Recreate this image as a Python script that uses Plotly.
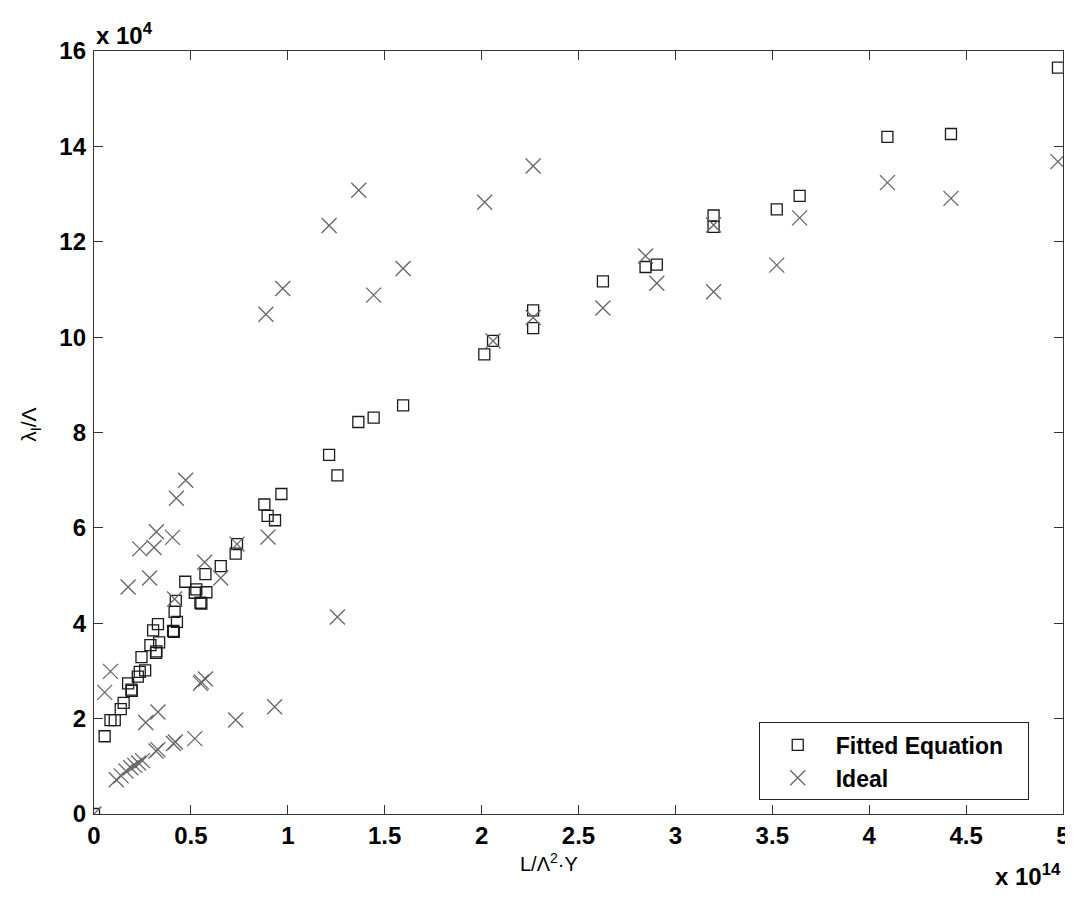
import plotly.graph_objects as go

# Fitted Equation (squares): x in units of 1e14, y in units of 1e4
fit_x = [4.974, 4.094, 4.422, 3.641, 3.523, 3.197, 3.197, 2.904, 2.846, 2.626,
         2.266, 2.266, 2.059, 2.014, 1.595, 1.443, 1.364, 1.213, 1.256, 0.967,
         0.879, 0.896, 0.934, 0.738, 0.731, 0.654, 0.575, 0.471, 0.528, 0.580,
         0.520, 0.549, 0.554, 0.422, 0.416, 0.428, 0.408, 0.412, 0.330, 0.305,
         0.336, 0.291, 0.322, 0.320, 0.245, 0.264, 0.236, 0.226, 0.176, 0.193,
         0.195, 0.153, 0.138, 0.085, 0.107, 0.055, 0.0]
fit_y = [15.65, 14.20, 14.26, 12.96, 12.68, 12.55, 12.31, 11.52, 11.47, 11.17,
         10.56, 10.19, 9.92, 9.64, 8.57, 8.31, 8.22, 7.53, 7.10, 6.71,
         6.49, 6.25, 6.16, 5.66, 5.46, 5.20, 5.03, 4.87, 4.71, 4.65,
         4.64, 4.43, 4.41, 4.47, 4.24, 4.03, 3.84, 3.82, 3.98, 3.85,
         3.60, 3.54, 3.41, 3.38, 3.29, 3.01, 2.98, 2.88, 2.74, 2.61,
         2.58, 2.33, 2.20, 1.97, 1.97, 1.63, 0.0]

# Ideal (crosses)
ideal_x = [4.974, 4.094, 4.422, 3.641, 3.523, 3.197, 3.197, 2.904, 2.846, 2.626,
           2.266, 2.266, 2.059, 2.016, 1.595, 1.443, 1.366, 1.213, 1.256, 0.974,
           0.887, 0.898, 0.932, 0.738, 0.731, 0.654, 0.571, 0.575, 0.554, 0.549,
           0.520, 0.473, 0.425, 0.416, 0.405, 0.322, 0.310, 0.236, 0.287, 0.176,
           0.330, 0.267, 0.085, 0.055,
           0.115, 0.140, 0.165, 0.190, 0.210, 0.230, 0.250, 0.320, 0.330, 0.410,
           0.420, 0.0]
ideal_y = [13.68, 13.24, 12.91, 12.50, 11.51, 12.35, 10.95, 11.13, 11.70, 10.61,
           13.59, 10.41, 9.92, 12.83, 11.44, 10.88, 13.08, 12.34, 4.13, 11.02,
           10.48, 5.81, 2.25, 5.66, 1.97, 4.95, 5.28, 2.83, 2.77, 2.74,
           1.58, 7.00, 6.62, 4.51, 5.80, 5.92, 5.59, 5.56, 4.95, 4.76,
           2.14, 1.92, 2.99, 2.55,
           0.72, 0.80, 0.90, 0.97, 1.02, 1.07, 1.12, 1.32, 1.35, 1.48,
           1.51, 0.0]

x_ticks = [0, 0.5, 1, 1.5, 2, 2.5, 3, 3.5, 4, 4.5, 5]
x_tick_text = ["0", "0.5", "1", "1.5", "2", "2.5", "3", "3.5", "4", "4.5", "5"]
y_ticks = [0, 2, 4, 6, 8, 10, 12, 14, 16]

FONT = "Liberation Sans, Arial, sans-serif"
PAD = "\u00a0\u00a0\u00a0"

fig = go.Figure()
fig.add_trace(go.Scatter(
    x=fit_x, y=fit_y, mode="markers", name="Fitted Equation" + PAD,
    marker=dict(symbol="square-open", size=11, color="#1a1a1a", line=dict(width=1.3)),
))
fig.add_trace(go.Scatter(
    x=ideal_x, y=ideal_y, mode="markers", name="Ideal",
    marker=dict(symbol="x-thin-open", size=15, color="#666666", line=dict(width=1.3, color="#666666")),
))

axis_common = dict(
    showgrid=False, zeroline=False, showline=True, linecolor="#333333", linewidth=1.3,
    mirror="ticks", ticks="inside", ticklen=9, tickwidth=1, tickcolor="#333333",
    tickfont=dict(family=FONT, size=24, color="black", weight="bold"),
)
fig.update_xaxes(range=[0, 5], tickvals=x_ticks, ticktext=x_tick_text, **axis_common)
fig.update_yaxes(range=[0, 16], tickvals=y_ticks, ticklabelstandoff=2, **axis_common)

# page body has an 8px default margin, so margins are reduced by 8px
fig.update_layout(
    width=1065, height=890,
    margin=dict(l=86, r=10, t=43, b=84, autoexpand=False),
    paper_bgcolor="white", plot_bgcolor="white",
    showlegend=True,
    legend=dict(
        x=0.686, y=0.12, xanchor="left", yanchor="top",
        bgcolor="white", bordercolor="#222222", borderwidth=1,
        font=dict(family=FONT, size=23, color="black", weight="bold"),
        itemwidth=66, tracegroupgap=0,
    ),
    annotations=[
        dict(text="x 10<sup>4</sup>", x=0, y=1, xref="paper", yref="paper",
             xanchor="left", yanchor="bottom", yshift=0, showarrow=False,
             font=dict(family=FONT, size=24, color="black", weight="bold")),
        dict(text="x 10<sup>14</sup>", x=1, y=0, xref="paper", yref="paper",
             xanchor="right", yanchor="top", yshift=-44, showarrow=False,
             font=dict(family=FONT, size=24, color="black", weight="bold")),
        dict(text="L/Λ<sup>2</sup>·Y", x=0.47, y=0, xref="paper", yref="paper",
             xanchor="center", yanchor="top", yshift=-34, showarrow=False,
             font=dict(family=FONT, size=20, color="black")),
        dict(text="λ<sub>I</sub>/Λ", x=0, y=0.51, xref="paper", yref="paper",
             xanchor="center", yanchor="middle", xshift=-64, showarrow=False, textangle=-90,
             font=dict(family=FONT, size=21, color="black")),
    ],
)

fig.write_html("out.html")
